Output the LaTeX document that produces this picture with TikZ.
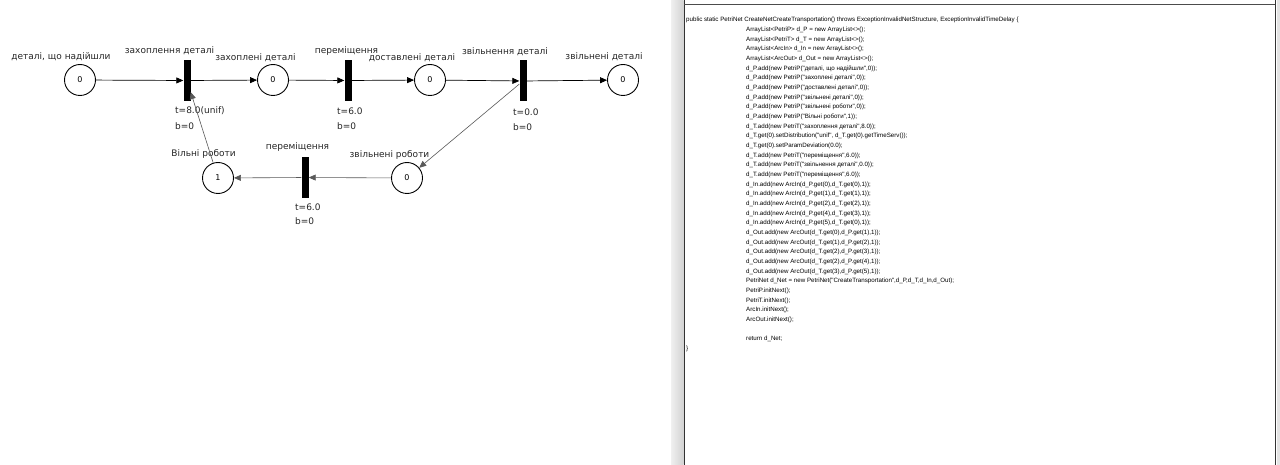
\documentclass[tikz,border=0pt]{standalone}
\usepackage{fontspec}
\setmainfont{DejaVu Sans}
\newfontfamily\codefont{Liberation Sans}
\usetikzlibrary{arrows.meta}
\begin{document}
\begin{tikzpicture}[x=1pt,y=-1pt,
 place/.style={circle,draw,line width=0.9pt,minimum size=31pt,inner sep=0pt,font=\fontsize{8}{9}\selectfont},
 trans/.style={rectangle,fill=black,minimum width=7pt,minimum height=41pt,inner sep=0pt},
 lbl/.style={font=\fontsize{9}{10}\selectfont,inner sep=0pt,text=black!85},
 info/.style={font=\fontsize{9}{10}\selectfont,inner sep=0pt,anchor=west,text=black!85},
 arc/.style={-{Triangle[length=7pt,width=6pt]},line width=0.7pt},
 arcg/.style={arc,draw=black!65,line width=0.6pt}]
\useasboundingbox (0,0) rectangle (1280,465);
\fill[white] (0,0) rectangle (1280,465);
% places
\node[place] (P0) at (80,80) {0};
\node[place] (P1) at (273,80) {0};
\node[place] (P2) at (430,80) {0};
\node[place] (P3) at (623,80) {0};
\node[place] (P4) at (407,178) {0};
\node[place] (P5) at (218,178) {1};
% transitions
\node[trans] (T0) at (187,80.5) {};
\node[trans] (T1) at (348,80.5) {};
\node[trans] (T2) at (523,81) {};
\node[trans] (T3) at (305,177.5) {};
% labels
\node[lbl] (L0) at (61,57) {деталі, що надійшли};
\node[lbl] (LT0) at (169.5,51) {захоплення деталі};
\node[lbl] (L1) at (255.5,58) {захоплені деталі};
\node[lbl] (LT1) at (346.5,51) {переміщення};
\node[lbl] (L2) at (412,58) {доставлені деталі};
\node[lbl] (LT2) at (505,52) {звільнення деталі};
\node[lbl] (L3) at (604,57) {звільнені деталі};
\node[lbl] (L5) at (203.5,154) {Вільні роботи};
\node[lbl] (LT3) at (297.5,147) {переміщення};
\node[lbl] (L4) at (389.5,155) {звільнені роботи};
\node[info] (I0a) at (175,111) {t=8.0(unif)};
\node[info] (I0b) at (175,126) {b=0};
\node[info] (I1a) at (337,111) {t=6.0};
\node[info] (I1b) at (337,126) {b=0};
\node[info] (I2a) at (513,112) {t=0.0};
\node[info] (I2b) at (513,127) {b=0};
\node[info] (I3a) at (295,207) {t=6.0};
\node[info] (I3b) at (295,221) {b=0};
% arcs
\draw[arc] (P0) -- (T0);
\draw[arc] (T0) -- (P1);
\draw[arc] (P1) -- (T1);
\draw[arc] (T1) -- (P2);
\draw[arc] (P2) -- (T2);
\draw[arc] (T2) -- (P3);
\draw[arcg] (T2) -- (P4);
\draw[arcg] (P5) -- (T0);
\draw[arcg] (P4) -- (T3);
\draw[arcg] (T3) -- (P5);
% code panel
\shade[left color=gray!12,right color=gray!35] (671,0) rectangle (683.5,465);
\draw[line width=1.6pt,black!80] (684.5,0) -- (684.5,465);
\draw[line width=0.8pt,black!70] (684,4.5) -- (1275,4.5);
\draw[line width=1.6pt,black!80] (1275.5,0) -- (1275.5,465);
\fill[gray!22] (1276.5,0) rectangle (1280,465);
\node[anchor=north west,inner sep=0pt,align=left,text=black,
  font=\codefont\fontsize{6.2}{9.67}\selectfont] (code) at (686,17) {%
public static PetriNet CreateNetCreateTransportation() throws ExceptionInvalidNetStructure, ExceptionInvalidTimeDelay \{\\
\hspace*{60pt}ArrayList<PetriP> d\_P = new ArrayList<>();\\
\hspace*{60pt}ArrayList<PetriT> d\_T = new ArrayList<>();\\
\hspace*{60pt}ArrayList<ArcIn> d\_In = new ArrayList<>();\\
\hspace*{60pt}ArrayList<ArcOut> d\_Out = new ArrayList<>();\\
\hspace*{60pt}d\_P.add(new PetriP("деталі, що надійшли",0));\\
\hspace*{60pt}d\_P.add(new PetriP("захоплені деталі",0));\\
\hspace*{60pt}d\_P.add(new PetriP("доставлені деталі",0));\\
\hspace*{60pt}d\_P.add(new PetriP("звільнені деталі",0));\\
\hspace*{60pt}d\_P.add(new PetriP("звільнені роботи",0));\\
\hspace*{60pt}d\_P.add(new PetriP("Вільні роботи",1));\\
\hspace*{60pt}d\_T.add(new PetriT("захоплення деталі",8.0));\\
\hspace*{60pt}d\_T.get(0).setDistribution("unif", d\_T.get(0).getTimeServ());\\
\hspace*{60pt}d\_T.get(0).setParamDeviation(0.0);\\
\hspace*{60pt}d\_T.add(new PetriT("переміщення",6.0));\\
\hspace*{60pt}d\_T.add(new PetriT("звільнення деталі",0.0));\\
\hspace*{60pt}d\_T.add(new PetriT("переміщення",6.0));\\
\hspace*{60pt}d\_In.add(new ArcIn(d\_P.get(0),d\_T.get(0),1));\\
\hspace*{60pt}d\_In.add(new ArcIn(d\_P.get(1),d\_T.get(1),1));\\
\hspace*{60pt}d\_In.add(new ArcIn(d\_P.get(2),d\_T.get(2),1));\\
\hspace*{60pt}d\_In.add(new ArcIn(d\_P.get(4),d\_T.get(3),1));\\
\hspace*{60pt}d\_In.add(new ArcIn(d\_P.get(5),d\_T.get(0),1));\\
\hspace*{60pt}d\_Out.add(new ArcOut(d\_T.get(0),d\_P.get(1),1));\\
\hspace*{60pt}d\_Out.add(new ArcOut(d\_T.get(1),d\_P.get(2),1));\\
\hspace*{60pt}d\_Out.add(new ArcOut(d\_T.get(2),d\_P.get(3),1));\\
\hspace*{60pt}d\_Out.add(new ArcOut(d\_T.get(2),d\_P.get(4),1));\\
\hspace*{60pt}d\_Out.add(new ArcOut(d\_T.get(3),d\_P.get(5),1));\\
\hspace*{60pt}PetriNet d\_Net = new PetriNet("CreateTransportation",d\_P,d\_T,d\_In,d\_Out);\\
\hspace*{60pt}PetriP.initNext();\\
\hspace*{60pt}PetriT.initNext();\\
\hspace*{60pt}ArcIn.initNext();\\
\hspace*{60pt}ArcOut.initNext();\\
\mbox{}\\
\hspace*{60pt}return d\_Net;\\
\}};
\end{tikzpicture}
\end{document}
